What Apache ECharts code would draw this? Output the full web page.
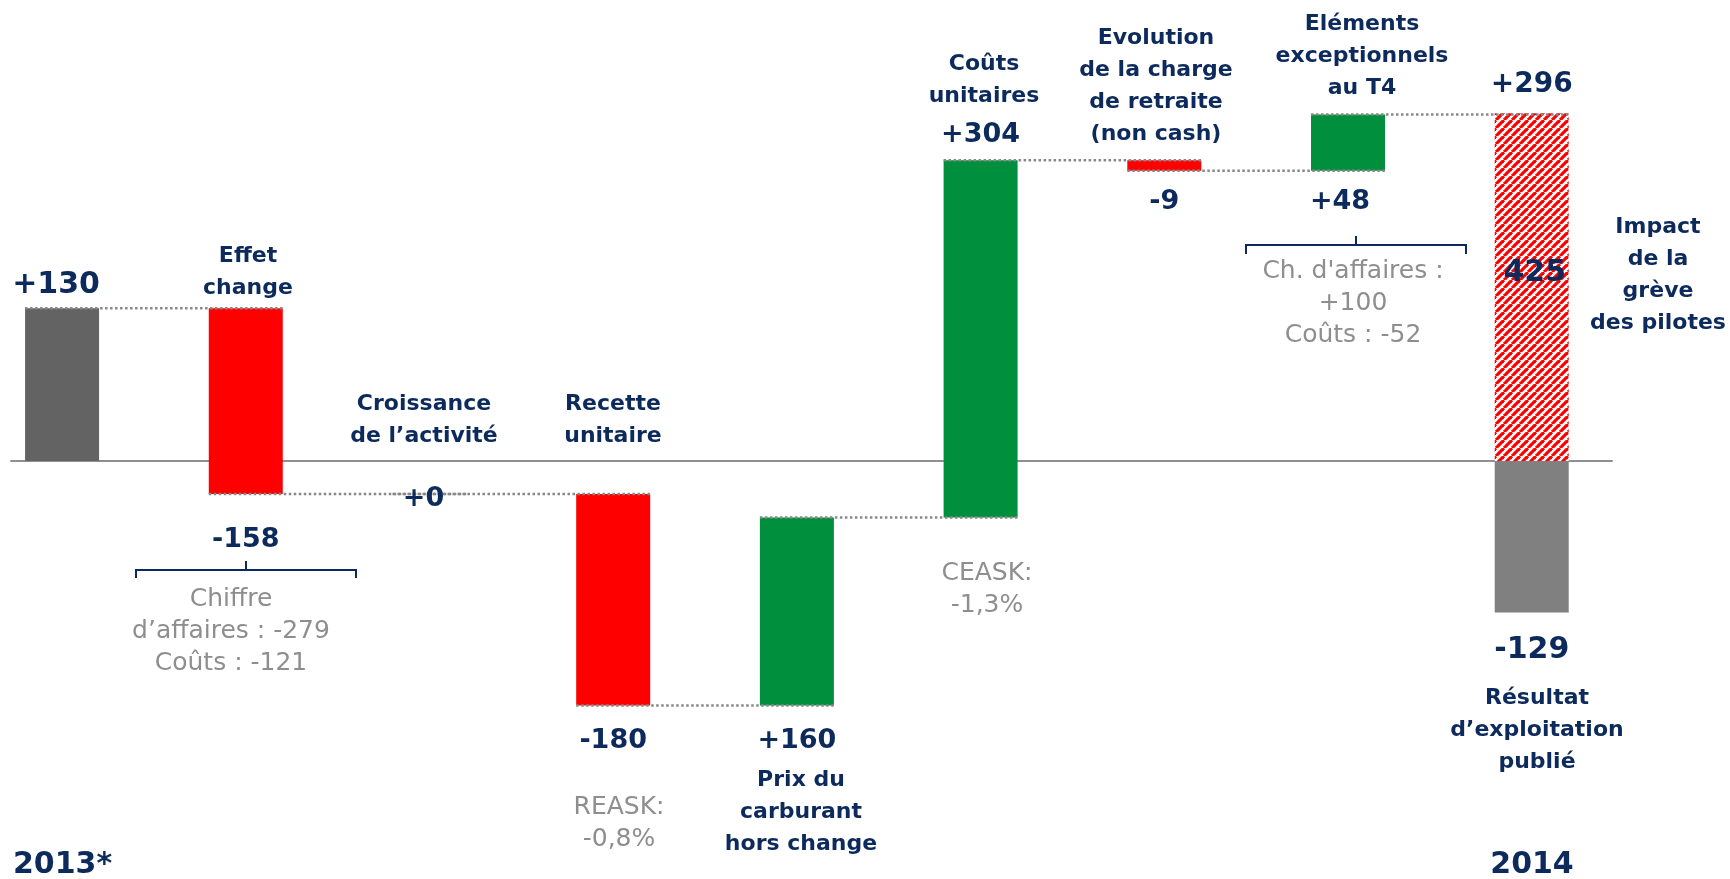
<!DOCTYPE html>
<html>
<head>
<meta charset="utf-8">
<script src="https://cdn.jsdelivr.net/npm/echarts@6/dist/echarts.min.js"></script>
<style>
  html, body { margin: 0; padding: 0; background: #ffffff; }
  #chart { width: 1730px; height: 879px; }
</style>
</head>
<body>
<div id="chart"></div>
<script>
// Résultat d'exploitation 2013 → 2014 (M€), waterfall by driver
const steps = ['2013*', 'Effet change', 'Croissance de l’activité', 'Recette unitaire',
  'Prix du carburant hors change', 'Coûts unitaires',
  'Evolution de la charge de retraite (non cash)', 'Eléments exceptionnels au T4', '2014'];
const opening = 130;                              // 2013* operating result
const deltas = [-158, 0, -180, 160, 304, -9, 48]; // one per driver
const closing = -129;                             // 2014 published result
const strikeImpact = 425;                         // pilots' strike impact

const NAVY = '#0d2a5c';
const NOTE = '#8e8e8e';
const FONT = '"DejaVu Sans", "Noto Sans", sans-serif';
const BAR_W = 74;

// Hatched fill for the strike impact
const HP = 8;
const hatch = document.createElement('canvas');
hatch.width = HP; hatch.height = HP;
(function () {
  const c = hatch.getContext('2d');
  c.fillStyle = '#ffffff';
  c.fillRect(0, 0, HP, HP);
  c.strokeStyle = '#ff0000';
  c.lineWidth = 3.2;
  for (const k of [-HP, 0, HP]) {
    c.beginPath();
    c.moveTo(k, HP);
    c.lineTo(k + HP, 0);
    c.stroke();
  }
})();
const fills = ['#636363', '#ff0000', '#008f3d', '#808080', { image: hatch, repeat: 'repeat' }];

// Floating segments [x, low, high, kind] and running levels
const segments = [[0, 0, opening, 0]];
const levels = [opening];
let level = opening;
deltas.forEach((d, i) => {
  const next = level + d;
  if (d !== 0) segments.push([i + 1, Math.min(level, next), Math.max(level, next), d < 0 ? 1 : 2]);
  level = next;
  levels.push(level);
});
const lastX = deltas.length + 1;
const reported = closing + strikeImpact;
segments.push([lastX, closing, 0, 3]);
segments.push([lastX, 0, reported, 4]);

// Dotted connectors between neighbouring bars: [x, level]
const connectors = levels.map((v, i) => [i, v]);

const chart = echarts.init(document.getElementById('chart'));
chart.setOption({
  animation: false,
  grid: { left: 11, width: 1601, top: 14.5, height: 799 },
  xAxis: {
    type: 'value', min: -0.278, max: 8.437,
    axisLine: { show: true, onZero: true, lineStyle: { color: '#8f8f8f', width: 2 } },
    axisTick: { show: false }, axisLabel: { show: false }, splitLine: { show: false }
  },
  yAxis: {
    type: 'value', min: -300, max: 380,
    axisLine: { show: false }, axisTick: { show: false }, axisLabel: { show: false },
    splitLine: { show: false }
  },
  series: [
    {
      type: 'custom',
      data: segments,
      encode: { x: 0, y: [1, 2] },
      z: 2,
      renderItem: function (params, api) {
        const x = api.value(0);
        const top = api.coord([x, api.value(2)]);
        const bottom = api.coord([x, api.value(1)]);
        return {
          type: 'rect',
          shape: { x: top[0] - BAR_W / 2, y: top[1], width: BAR_W, height: bottom[1] - top[1] },
          style: { fill: fills[api.value(3)] }
        };
      }
    },
    {
      type: 'custom',
      data: connectors,
      encode: { x: 0, y: 1 },
      z: 3,
      renderItem: function (params, api) {
        const i = api.value(0), v = api.value(1);
        const a = api.coord([i, v]);
        const b = api.coord([i + 1, v]);
        return {
          type: 'line',
          shape: { x1: a[0] - BAR_W / 2, y1: a[1], x2: b[0] + BAR_W / 2, y2: b[1] },
          style: { stroke: '#888888', lineWidth: 2.5, lineDash: [2.5, 2.5] }
        };
      }
    }
  ]
});

// ---- text annotations ----
const P = (x, v) => chart.convertToPixel({ xAxisIndex: 0, yAxisIndex: 0 }, [x, v]);
const fmt = v => (v >= 0 ? '+' : '') + v;

function txt(text, x, y, size, weight, color, align) {
  return {
    type: 'text', z: 10,
    style: {
      text: text, x: x, y: y,
      font: (weight || 'bold') + ' ' + size + 'px ' + FONT,
      fill: color || NAVY,
      lineHeight: 32,
      textAlign: align || 'center', align: align || 'center',
      textVerticalAlign: 'middle', verticalAlign: 'middle'
    }
  };
}

const g = [];
// value labels
let p;
p = P(0, opening); g.push(txt(fmt(opening), p[0] - 6, p[1] - 23, 30));
const side = ['below', 'line', 'below', 'below', 'above', 'below', 'below'];
deltas.forEach((d, i) => {
  const x = i + 1;
  const lo = Math.min(levels[i], levels[i + 1]);
  const hi = Math.max(levels[i], levels[i + 1]);
  let q, y;
  if (side[i] === 'above') { q = P(x, hi); y = q[1] - 25; }
  else if (side[i] === 'line') { q = P(x, levels[i + 1]); y = q[1] + 5; }
  else { q = P(x, lo); y = q[1] + (i === 0 ? 46 : (i === 2 || i === 3 ? 36 : 31)); }
  g.push(txt(fmt(d), q[0] + (i === 6 ? -8 : 0) + (i === 1 ? -6 : 0), y, 27));
});
p = P(lastX, reported); g.push(txt(fmt(reported), p[0], p[1] - 28, 28));
g.push(txt(String(strikeImpact), p[0] + 3, p[1] + 160, 30));
p = P(lastX, closing); g.push(txt(fmt(closing), p[0], p[1] + 38, 30));

// driver names
g.push(txt('Effet\nchange', 248, 272, 22));
g.push(txt('Croissance\nde l’activité', 424, 420, 22));
g.push(txt('Recette\nunitaire', 613, 420, 22));
g.push(txt('Prix du\ncarburant\nhors change', 801, 812, 22));
g.push(txt('Coûts\nunitaires', 984, 80, 22));
g.push(txt('Evolution\nde la charge\nde retraite\n(non cash)', 1156, 86, 22));
g.push(txt('Eléments\nexceptionnels\nau T4', 1362, 56, 22));
g.push(txt('Impact\nde la\ngrève\ndes pilotes', 1658, 275, 22));
g.push(txt('Résultat\nd’exploitation\npublié', 1537, 730, 22));
g.push(txt(steps[0], 13, 865, 30, 'bold', NAVY, 'left'));
g.push(txt(steps[8], 1532, 865, 30));

// grey notes
g.push(txt('Chiffre\nd’affaires : -279\nCoûts : -121', 231, 631, 25, 'normal', NOTE));
g.push(txt('REASK:\n-0,8%', 619, 823, 25, 'normal', NOTE));
g.push(txt('CEASK:\n-1,3%', 987, 589, 25, 'normal', NOTE));
g.push(txt('Ch. d\'affaires :\n+100\nCoûts : -52', 1353, 303, 25, 'normal', NOTE));

// braces
const brace = (x1, x2, xc, y, down, up) => {
  g.push({ type: 'polyline', z: 10, shape: { points: [[x1, y + down], [x1, y], [x2, y], [x2, y + down]] },
    style: { stroke: NAVY, lineWidth: 2, fill: null } });
  g.push({ type: 'line', z: 10, shape: { x1: xc, y1: y, x2: xc, y2: y - up },
    style: { stroke: NAVY, lineWidth: 2 } });
};
brace(136, 356, 246, 570, 8, 9);
brace(1246, 1466, 1356, 245, 9, 9);

chart.setOption({ graphic: g });
</script>
</body>
</html>
